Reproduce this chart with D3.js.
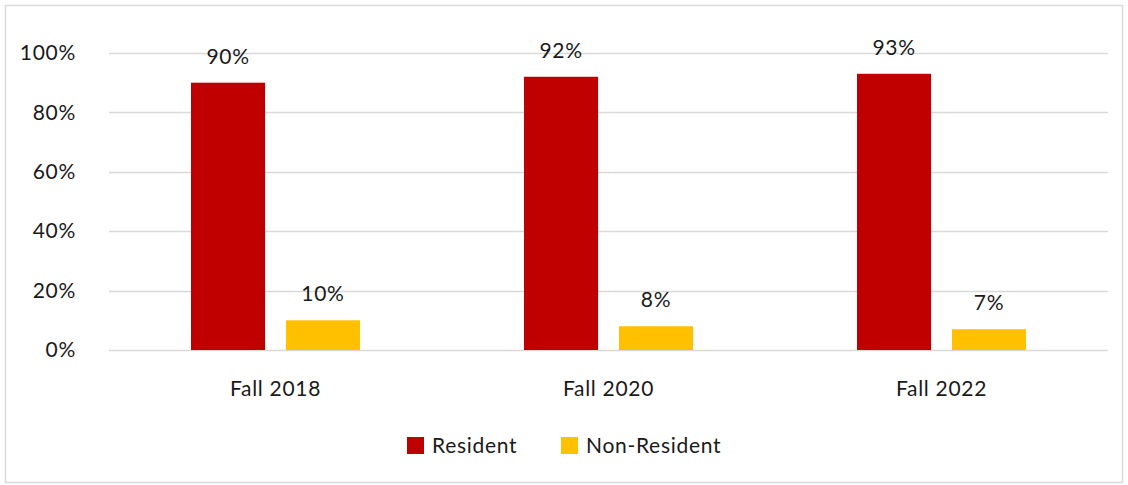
<!DOCTYPE html>
<html>
<head>
<meta charset="utf-8">
<script src="https://cdn.jsdelivr.net/npm/d3@7"></script>
<style>
  body { margin: 0; background: #fff; }
  text { font-family: Lato, "Open Sans", sans-serif; fill: #1a1a1a; letter-spacing: 0.7px; }
</style>
</head>
<body>
<svg id="chart" width="1128" height="485"></svg>
<script>
const categories = ["Fall 2018", "Fall 2020", "Fall 2022"];
const seriesNames = ["Resident", "Non-Resident"];
const resident = [90, 92, 93];
const nonResident = [10, 8, 7];
const yTicks = [0, 20, 40, 60, 80, 100];
const colors = ["#C00000", "#FFC000"];

const width = 1128, height = 485;
const margin = { top: 53, right: 20, bottom: 135, left: 109 };
const fontSize = "21px";

const svg = d3.select("#chart");

// outer border
svg.append("rect")
  .attr("x", 5.5).attr("y", 5.5)
  .attr("width", width - 11).attr("height", height - 8)
  .attr("fill", "#fff")
  .attr("stroke", "#d9d9d9")
  .attr("stroke-width", 1.5);

const x0 = d3.scaleBand()
  .domain(categories)
  .range([margin.left, width - margin.right])
  .paddingInner(0)
  .paddingOuter(0);

const x1 = d3.scaleBand()
  .domain(seriesNames)
  .range([82, x0.bandwidth() - 82])
  .paddingInner(0.22);

const y = d3.scaleLinear()
  .domain([0, 100])
  .range([height - margin.bottom, margin.top]);

// gridlines
svg.append("g")
  .selectAll("line")
  .data(yTicks)
  .join("line")
  .attr("x1", margin.left)
  .attr("x2", width - margin.right)
  .attr("y1", d => Math.round(y(d)) + 0.5)
  .attr("y2", d => Math.round(y(d)) + 0.5)
  .attr("stroke", "#d9d9d9")
  .attr("stroke-width", 1.5);

// y axis labels
const yAxis = svg.append("g")
  .attr("transform", `translate(${margin.left},0)`)
  .call(d3.axisLeft(y).tickValues(yTicks).tickFormat(d => d + "%").tickSize(0).tickPadding(33));
yAxis.select(".domain").remove();
yAxis.selectAll("text")
  .style("font-family", "Lato, 'Open Sans', sans-serif")
  .style("font-size", fontSize)
  .attr("fill", "#1a1a1a");

// x axis labels
const xAxis = svg.append("g")
  .attr("transform", `translate(0,${y(0)})`)
  .call(d3.axisBottom(x0).tickSize(0).tickPadding(31));
xAxis.select(".domain").remove();
xAxis.selectAll("text")
  .style("font-family", "Lato, 'Open Sans', sans-serif")
  .style("font-size", fontSize)
  .attr("fill", "#1a1a1a");

const rows = categories.map((c, i) => ({
  category: c,
  values: [
    { key: seriesNames[0], value: resident[i], color: colors[0] },
    { key: seriesNames[1], value: nonResident[i], color: colors[1] }
  ]
}));

const groups = svg.append("g")
  .selectAll("g")
  .data(rows)
  .join("g")
  .attr("transform", d => `translate(${x0(d.category)},0)`);

groups.selectAll("rect")
  .data(d => d.values)
  .join("rect")
  .attr("x", d => x1(d.key))
  .attr("width", x1.bandwidth())
  .attr("y", d => y(d.value))
  .attr("height", d => y(0) - y(d.value))
  .attr("fill", d => d.color);

groups.selectAll("text.lbl")
  .data(d => d.values)
  .join("text")
  .attr("class", "lbl")
  .attr("x", d => x1(d.key) + x1.bandwidth() / 2)
  .attr("y", d => y(d.value) - 19)
  .attr("text-anchor", "middle")
  .style("font-size", fontSize)
  .text(d => d.value + "%");

// legend
const legend = svg.append("g");
const legendX = [407, 561];
seriesNames.forEach((name, i) => {
  legend.append("rect")
    .attr("x", legendX[i]).attr("y", 437)
    .attr("width", 17).attr("height", 17)
    .attr("fill", colors[i]);
  legend.append("text")
    .attr("x", legendX[i] + 25).attr("y", 453)
    .style("font-size", fontSize)
    .text(name);
});
</script>
</body>
</html>
